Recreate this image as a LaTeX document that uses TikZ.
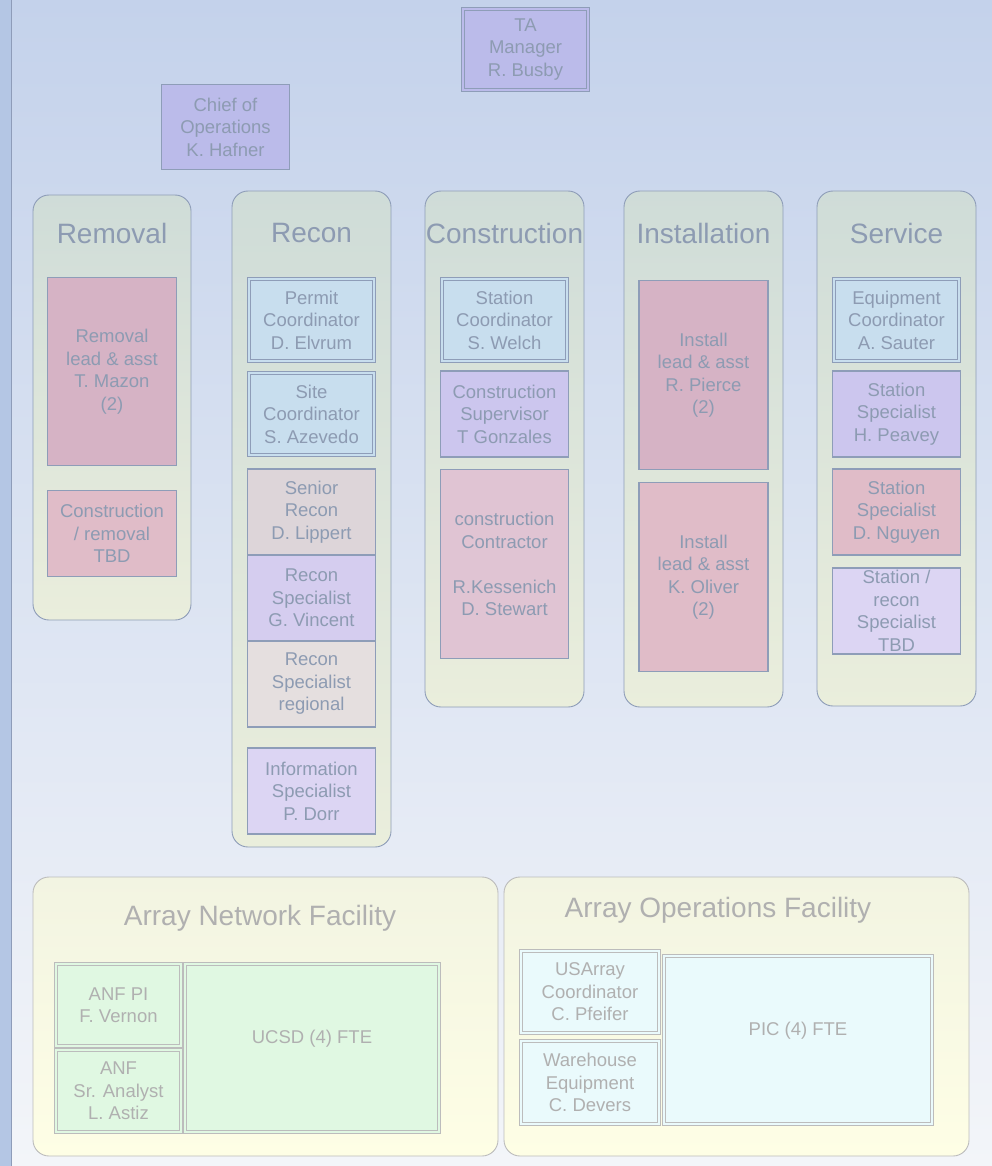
\documentclass[tikz,border=0pt]{standalone}
\usepackage{fontspec}
\setmainfont{Liberation Sans}
\definecolor{bgTop}{HTML}{C4D2EB}
\definecolor{bgBot}{HTML}{F3F5F9}
\definecolor{stripc}{HTML}{B4C6E4}
\definecolor{stripl}{HTML}{8E9CB9}
\definecolor{bordc}{HTML}{8E9DB8}
\definecolor{txtc}{HTML}{8D9BB2}
\definecolor{grpTop}{HTML}{CFDCD8}
\definecolor{grpBot}{HTML}{EAEEDC}
\definecolor{lav}{HTML}{BBBBEA}
\definecolor{lblue}{HTML}{C8DEEE}
\definecolor{pinkA}{HTML}{D6B3C5}
\definecolor{pinkB}{HTML}{E0BCC8}
\definecolor{greyp}{HTML}{DDD5D9}
\definecolor{greyq}{HTML}{E5DFDF}
\definecolor{violA}{HTML}{CCC6EE}
\definecolor{violB}{HTML}{D5CDEF}
\definecolor{violC}{HTML}{DCD5F3}
\definecolor{contr}{HTML}{E0C4D3}
\definecolor{yelTop}{HTML}{F2F4E2}
\definecolor{yelBot}{HTML}{FEFEE5}
\definecolor{gbord}{HTML}{BCBCBC}
\definecolor{gtxt}{HTML}{B0B0B0}
\definecolor{mint}{HTML}{E0F8E2}
\definecolor{icy}{HTML}{EAFAFC}
\begin{document}
\begin{tikzpicture}[x=1pt,y=-1pt,
  txt/.style={text=txtc, font=\fontsize{18.5}{22.5}\selectfont, align=center, inner sep=0pt},
  sz/.style 2 args={minimum width=#1pt, minimum height=#2pt},
  box/.style={txt, draw=bordc, line width=1.3pt, fill=#1},
  dbox/.style={txt, draw=bordc, double=#1, double distance=1.6pt, line width=1.1pt, fill=#1},
  grp/.style={draw=bordc, line width=0.9pt, rounded corners=16pt, top color=grpTop, bottom color=grpBot, inner sep=0pt},
  ttl/.style={text=txtc, font=\fontsize{28}{34}\selectfont, inner sep=0pt},
  ygrp/.style={draw=gbord, line width=0.9pt, rounded corners=16pt, top color=yelTop, bottom color=yelBot, inner sep=0pt},
  ytxt/.style={text=gtxt, font=\fontsize{18.5}{22.5}\selectfont, align=center, inner sep=0pt},
  gdbox/.style={ytxt, draw=gbord, double=#1, double distance=1.6pt, line width=1.1pt, fill=#1},
  yttl/.style={text=gtxt, font=\fontsize{28}{34}\selectfont, inner sep=0pt}
]
\useasboundingbox (0,0) rectangle (992,1166);
\fill[top color=bgTop, bottom color=bgBot] (0,0) rectangle (992,1166);
\fill[stripc] (0,0) rectangle (11,1166);
\draw[stripl, line width=1pt] (11.5,0) -- (11.5,1166);

% top managers
\node[dbox=lav, sz={125}{81}] (ta) at (525.5,49.5) {TA\\Manager\\R. Busby};
\node[box=lav, sz={128}{85}] (chief) at (225.5,127) {Chief of\\Operations\\K. Hafner};

% Removal
\node[grp, sz={158}{425}] (gRem) at (112,407.5) {};
\node[ttl] (tRem) at (112,233) {Removal};
\node[box=pinkA, sz={129}{188}] (remLead) at (112,371.5) {Removal\\lead \& asst\\T. Mazon\\(2)};
\node[box=pinkB, sz={129}{86}] (remTBD) at (112,533.5) {Construction\\/ removal\\TBD};

% Recon
\node[grp, sz={159}{656}] (gRec) at (311.5,519) {};
\node[ttl] (tRec) at (311.5,233) {Recon};
\node[dbox=lblue, sz={125}{82}] (permit) at (311.5,320) {Permit\\Coordinator\\D. Elvrum};
\node[dbox=lblue, sz={125}{82}] (site) at (311.5,414) {Site\\Coordinator\\S. Azevedo};
\node[box=greyp, sz={128}{86}] (senior) at (311.5,512) {Senior\\Recon\\D. Lippert};
\node[box=violB, sz={128}{86}] (vincent) at (311.5,598) {Recon\\Specialist\\G. Vincent};
\node[box=greyq, sz={128}{86}] (regional) at (311.5,684) {Recon\\Specialist\\regional};
\node[box=violC, sz={128}{86}] (info) at (311.5,791) {Information\\Specialist\\P. Dorr};

% Construction
\node[grp, sz={159}{516}] (gCon) at (504.5,449) {};
\node[ttl] (tCon) at (504.5,233) {Construction};
\node[dbox=lblue, sz={125}{82}] (welch) at (504.5,320) {Station\\Coordinator\\S. Welch};
\node[box=violA, sz={128}{86}] (gonz) at (504.5,414) {Construction\\Supervisor\\T Gonzales};
\node[box=contr, sz={128}{189}] (contractor) at (504.5,564) {construction\\Contractor\\[22.5pt]R.Kessenich\\D. Stewart};

% Installation
\node[grp, sz={159}{516}] (gIns) at (703.5,449) {};
\node[ttl] (tIns) at (703.5,233) {Installation};
\node[box=pinkA, sz={129}{189}] (pierce) at (703.5,375) {Install\\lead \& asst\\R. Pierce\\(2)};
\node[box=pinkB, sz={129}{189}] (oliver) at (703.5,577) {Install\\lead \& asst\\K. Oliver\\(2)};

% Service
\node[grp, sz={159}{515}] (gSer) at (896.5,448.5) {};
\node[ttl] (tSer) at (896.5,233) {Service};
\node[dbox=lblue, sz={125}{82}] (sauter) at (896.5,320) {Equipment\\Coordinator\\A. Sauter};
\node[box=violA, sz={128}{86}] (peavey) at (896.5,414) {Station\\Specialist\\H. Peavey};
\node[box=pinkB, sz={128}{86}] (nguyen) at (896.5,512) {Station\\Specialist\\D. Nguyen};
\node[box=violC, sz={128}{86}] (svTBD) at (896.5,611) {Station /\\recon\\Specialist\\TBD};

% Array Network Facility
\node[ygrp, sz={465}{279}] (gANF) at (265.5,1016.5) {};
\node[yttl] (tANF) at (260,918) {Array Network Facility};
\node[gdbox=mint, sz={125}{82}] (anfpi) at (118.5,1005) {ANF PI\\F. Vernon};
\node[gdbox=mint, sz={125}{82}] (astiz) at (118.5,1091) {ANF\\Sr. Analyst\\L. Astiz};
\node[gdbox=mint, sz={254}{168}] (ucsd) at (312,1048) {UCSD (4) FTE\\ };

% Array Operations Facility
\node[ygrp, sz={465}{279}] (gAOF) at (736.5,1016.5) {};
\node[yttl] (tAOF) at (718,910) {Array Operations Facility};
\node[gdbox=icy, sz={138}{82}] (pfeifer) at (590,992) {USArray\\Coordinator\\C. Pfeifer};
\node[gdbox=icy, sz={138}{83}] (devers) at (590,1082.5) {Warehouse\\Equipment\\C. Devers};
\node[gdbox=icy, sz={268}{168}] (pic) at (798,1040) {PIC (4) FTE\\ };
\end{tikzpicture}
\end{document}
